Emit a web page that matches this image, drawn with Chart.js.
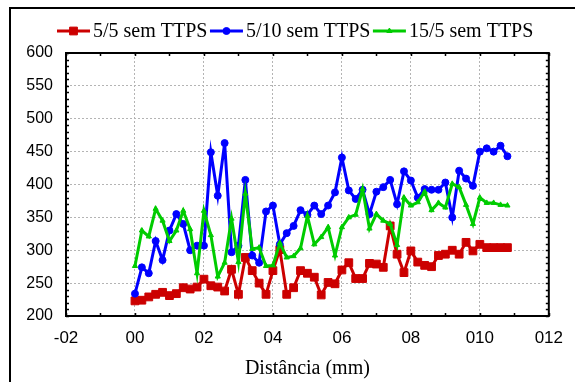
<!DOCTYPE html>
<html>
<head>
<meta charset="utf-8">
<script src="https://cdn.jsdelivr.net/npm/chart.js@4.4.0/dist/chart.umd.min.js"></script>
<style>
html, body { margin: 0; padding: 0; background: #fff; }
</style>
</head>
<body>
<canvas id="chart" width="575" height="382"></canvas>
<script>
// distance along the sample (mm), same for the three series
let distances = [0.00, 0.02, 0.04, 0.06, 0.08, 0.10, 0.12, 0.14, 0.16, 0.18,
                 0.20, 0.22, 0.24, 0.26, 0.28, 0.30, 0.32, 0.34, 0.36, 0.38,
                 0.40, 0.42, 0.44, 0.46, 0.48, 0.50, 0.52, 0.54, 0.56, 0.58,
                 0.60, 0.62, 0.64, 0.66, 0.68, 0.70, 0.72, 0.74, 0.76, 0.78,
                 0.80, 0.82, 0.84, 0.86, 0.88, 0.90, 0.92, 0.94, 0.96, 0.98,
                 1.00, 1.02, 1.04, 1.06, 1.08]

let seriesNames = ['5/5 sem TTPS', '5/10 sem TTPS', '15/5 sem TTPS']

let red55 = [223, 224, 229, 233, 236, 231, 234, 243, 241, 244,
             256, 246, 244, 238, 271, 233, 289, 269, 250, 233,
             269, 301, 233, 243, 269, 265, 259, 232, 251, 249,
             270, 281, 257, 257, 280, 279, 274, 337, 294, 266,
             299, 282, 277, 275, 292, 294, 300, 294, 312, 299,
             309, 304, 304, 304, 304]

let blue510 = [234, 274, 265, 314, 285, 330, 355, 340, 300, 307,
               307, 449, 383, 463, 297, 307, 407, 292, 281, 359,
               368, 309, 326, 337, 361, 354, 368, 355, 368, 388,
               441, 391, 378, 392, 355, 389, 396, 407, 370, 420,
               406, 380, 393, 392, 392, 403, 350, 421, 409, 398,
               450, 455, 450, 459, 443]

let green155 = [276, 330, 321, 363, 345, 314, 330, 360, 332, 265,
                360, 323, 260, 281, 348, 282, 386, 302, 304, 276,
                277, 311, 289, 291, 303, 352, 309, 320, 335, 292,
                335, 350, 354, 393, 333, 355, 345, 340, 308, 380,
                368, 373, 389, 361, 372, 365, 401, 396, 369, 340,
                380, 372, 372, 369, 368]

// tick labels as printed on the original (decimal point lost)
let xTickLabels = ['-02', '00', '02', '04', '06', '08', '010', '012']
let xTitle = 'Distância (mm)'

function toPoints(values){
    return values.map((v, i) => ({x: distances[i], y: v}))
}

//outer frame, plot frame, inward minor ticks and the legend
const decorations = {
    id: 'decorations',
    afterDraw(chart){
        let ctx = chart.ctx
        let area = chart.chartArea
        let xs = chart.scales.x
        let ys = chart.scales.y
        ctx.save()
        ctx.fillStyle = '#000'
        ctx.fillRect(9, 7, 2, 375)
        ctx.fillRect(9, 7, 566, 2)

        ctx.strokeStyle = '#000'
        ctx.lineWidth = 1.5
        for(let v = -2; v <= 12; v++){
            let px = Math.round(xs.getPixelForValue(v / 10)) + 0.5
            ctx.beginPath()
            ctx.moveTo(px, area.bottom); ctx.lineTo(px, area.bottom - 3)
            ctx.moveTo(px, area.top); ctx.lineTo(px, area.top + 3)
            ctx.stroke()
        }
        for(let v = 200; v <= 600; v += 10){
            let py = Math.round(ys.getPixelForValue(v)) + 0.5
            ctx.beginPath()
            ctx.moveTo(area.left, py); ctx.lineTo(area.left + 3, py)
            ctx.moveTo(area.right, py); ctx.lineTo(area.right - 3, py)
            ctx.stroke()
        }
        ctx.lineWidth = 2
        ctx.strokeRect(area.left, area.top, area.right - area.left, area.bottom - area.top)

        //legend: line sample with marker, then label
        ctx.font = '20px "Liberation Serif"'
        ctx.textBaseline = 'middle'
        ctx.textAlign = 'left'
        let lx = 57
        let ly = 31
        chart.data.datasets.forEach(ds => {
            ctx.strokeStyle = ds.borderColor
            ctx.lineWidth = ds.borderWidth
            ctx.beginPath()
            ctx.moveTo(lx, ly); ctx.lineTo(lx + 33, ly)
            ctx.stroke()
            ctx.fillStyle = ds.backgroundColor
            ctx.lineWidth = 1
            Chart.helpers.drawPoint(ctx, {pointStyle: ds.pointStyle, radius: ds.pointRadius, rotation: 0, borderWidth: 1}, lx + 16.5, ly)
            ctx.fillStyle = '#000'
            ctx.fillText(ds.label, lx + 36, ly + 1)
            lx += 36 + ctx.measureText(ds.label).width + 2.5
        })
        ctx.restore()
    }
}

let chart = new Chart(document.querySelector('#chart').getContext('2d'), {
    type: 'line',
    data: {
        datasets: [{
            label: seriesNames[0],
            data: toPoints(red55),
            borderColor: '#cc0000',
            backgroundColor: '#cc0000',
            borderWidth: 3,
            pointStyle: 'rect',
            pointRadius: 5.5,
            pointBorderWidth: 1,
            order: 3
        }, {
            label: seriesNames[1],
            data: toPoints(blue510),
            borderColor: '#0000ff',
            backgroundColor: '#0000ff',
            borderWidth: 3,
            pointStyle: 'circle',
            pointRadius: 3.5,
            pointBorderWidth: 1,
            order: 2
        }, {
            label: seriesNames[2],
            data: toPoints(green155),
            borderColor: '#00cc00',
            backgroundColor: '#00cc00',
            borderWidth: 3,
            pointStyle: 'triangle',
            pointRadius: 3,
            pointBorderWidth: 1,
            order: 1
        }]
    },
    options: {
        responsive: false,
        animation: false,
        devicePixelRatio: 1,
        layout: {padding: {top: 53, right: 14, left: 0, bottom: 0}},
        plugins: {
            legend: {display: false},
            tooltip: {enabled: false}
        },
        elements: {line: {tension: 0}},
        scales: {
            x: {
                type: 'linear',
                min: -0.2,
                max: 1.2,
                afterFit: scale => { scale.height = 66 },
                ticks: {
                    stepSize: 0.2,
                    autoSkip: false,
                    maxRotation: 0,
                    padding: 12,
                    color: '#000',
                    font: {family: '"Liberation Sans"', size: 17},
                    callback: (value, index) => xTickLabels[index]
                },
                grid: {color: '#b4b4b4', lineWidth: 1, drawTicks: false},
                border: {display: false, dash: [2, 2]},
                title: {
                    display: true,
                    text: xTitle,
                    color: '#000',
                    font: {family: '"Liberation Serif"', size: 20},
                    padding: {top: 0, bottom: 1}
                }
            },
            y: {
                min: 200,
                max: 600,
                afterFit: scale => { scale.width = 66 },
                ticks: {
                    stepSize: 50,
                    padding: 13,
                    color: '#000',
                    font: {family: '"Liberation Sans"', size: 16}
                },
                grid: {color: '#b4b4b4', lineWidth: 1, drawTicks: false},
                border: {display: false, dash: [2, 2]}
            }
        }
    },
    plugins: [decorations]
})
</script>
</body>
</html>
